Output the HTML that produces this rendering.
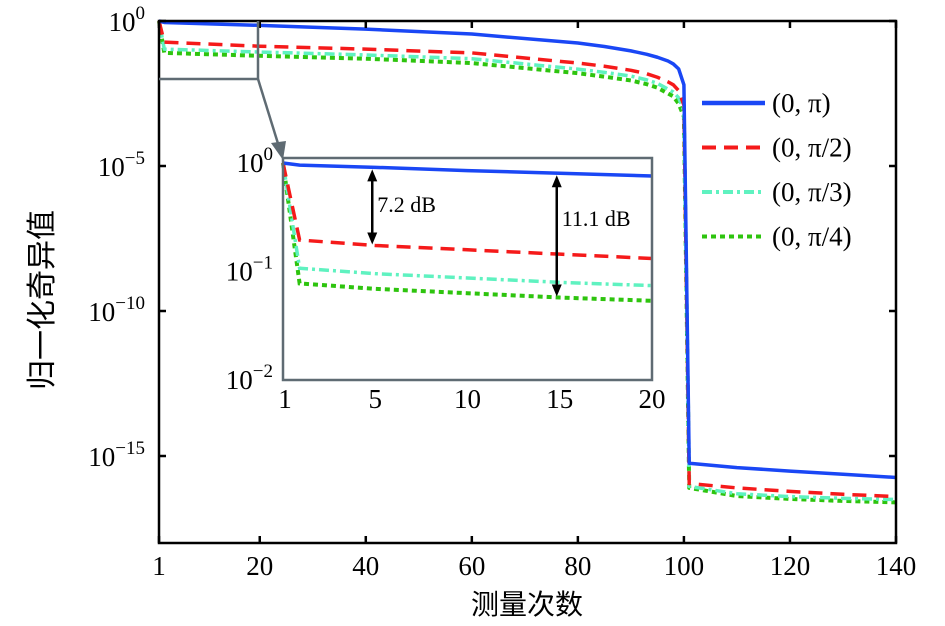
<!DOCTYPE html>
<html><head><meta charset="utf-8">
<style>
body{margin:0;background:#fff;}
svg{display:block;font-family:"Liberation Serif","Noto Serif CJK SC",serif;}
</style></head>
<body>
<svg id="chart" width="945" height="626" viewBox="0 0 945 626" xmlns="http://www.w3.org/2000/svg"></svg>
<script>
// ---- main chart data (log10 of normalized singular value) ----
const mainX = [1, 2, 20, 40, 60, 80, 85, 90, 93, 95, 97, 98, 99, 100, 101, 110, 120, 130, 140];
const blueMain  = [0, -0.05, -0.15, -0.28, -0.45, -0.76, -0.88, -1.03, -1.15, -1.25, -1.38, -1.48, -1.65, -2.2, -15.25, -15.4, -15.52, -15.63, -15.74];
const redMain   = [0, -0.73, -0.87, -0.97, -1.1, -1.45, -1.56, -1.7, -1.82, -1.94, -2.1, -2.2, -2.4, -2.9, -15.95, -16.1, -16.22, -16.32, -16.4];
const cyanMain  = [0, -0.97, -1.07, -1.17, -1.3, -1.66, -1.77, -1.9, -2.03, -2.15, -2.35, -2.45, -2.65, -3.1, -16.05, -16.3, -16.4, -16.46, -16.5];
const greenMain = [0, -1.1, -1.2, -1.3, -1.45, -1.8, -1.92, -2.05, -2.18, -2.3, -2.5, -2.6, -2.85, -3.3, -16.1, -16.38, -16.48, -16.55, -16.6];
const mainXTicks = [1, 20, 40, 60, 80, 100, 120, 140];
const mainYTicks = [0, -5, -10, -15];
const mainYLabels = ["0", "−5", "−10", "−15"];

// ---- inset data (index 0 = measurement 1) ----
const insetX = [0, 0.9, 5, 10, 15, 20];
const blueInset  = [0, -0.02, -0.04, -0.07, -0.095, -0.12];
const redInset   = [0, -0.71, -0.76, -0.8, -0.84, -0.88];
const cyanInset  = [0, -0.97, -1.02, -1.06, -1.1, -1.13];
const greenInset = [0, -1.11, -1.16, -1.2, -1.24, -1.27];
const insetXTicks = [0, 5, 10, 15, 20];
const insetXLabels = ["1", "5", "10", "15", "20"];
const insetYTicks = [0, -1, -2];
const insetYLabels = ["0", "−1", "−2"];
const annotX = [5, 15];
const annotLabels = ["7.2 dB", "11.1 dB"];

const legendLabels = ["(0, π)", "(0, π/2)", "(0, π/3)", "(0, π/4)"];
const colors = ["#1a47f5", "#f51a1a", "#5ff2c0", "#2ec40e"];
const dashes = ["", "14,8", "10,4,3,4", "5,4"];

const NS = "http://www.w3.org/2000/svg";
const svg = document.getElementById("chart");
function mk(tag, attrs, parent) {
  const e = document.createElementNS(NS, tag);
  for (const k in attrs) e.setAttribute(k, attrs[k]);
  (parent || svg).appendChild(e);
  return e;
}

const L = 159, R = 896, T = 21, B = 543;
const xMin = 1, xMax = 140, yMax = 0, yMin = -18;
const mx = v => L + (v - xMin) / (xMax - xMin) * (R - L);
const my = v => T + (yMax - v) / (yMax - yMin) * (B - T);

const iL = 283, iR = 652, iT = 158, iB = 380;
const ix = v => iL + v / 20 * (iR - iL);
const iy = v => iT + (0.046 - v) / 2.046 * (iB - iT);

const mainSeries = [blueMain, redMain, cyanMain, greenMain];
const gMain = mk("g", {});


[3, 2, 1, 0].forEach(i => {
  const p = mk("polyline", {points: mainX.map((x, j) => mx(x) + "," + my(mainSeries[i][j])).join(" "),
    fill: "none", stroke: colors[i], "stroke-width": i === 3 ? 4 : 3.5, "stroke-dasharray": dashes[i], "stroke-linejoin": "round"}, gMain);
  
  
});

const frame = mk("rect", {x: L, y: T, width: R - L, height: B - T, fill: "none", stroke: "#000", "stroke-width": 2.5});



mainXTicks.forEach(t => {
  const tk = mk("line", {x1: mx(t), x2: mx(t), y1: B, y2: B - 7, stroke: "#000", "stroke-width": 2.5});
  
  
  const tk2 = mk("line", {x1: mx(t), x2: mx(t), y1: T, y2: T + 7, stroke: "#000", "stroke-width": 2.5});
  
  
  const lb = mk("text", {x: mx(t), y: 575, "text-anchor": "middle", "font-size": 27});
  lb.textContent = t;
  
  
});
mainYTicks.forEach((t, k) => {
  const tk = mk("line", {x1: L, x2: L + 7, y1: my(t), y2: my(t), stroke: "#000", "stroke-width": 2.5});
  
  
  const tk2 = mk("line", {x1: R, x2: R - 7, y1: my(t), y2: my(t), stroke: "#000", "stroke-width": 2.5});
  
  
  const lb = mk("text", {x: 145, y: my(t) + 10, "text-anchor": "end", "font-size": 27});
  
  
  lb.appendChild(document.createTextNode("10"));
  const sp = mk("tspan", {dy: -12, "font-size": 19}, lb);
  sp.textContent = mainYLabels[k];
});

const xt = mk("text", {x: 527, y: 614, "text-anchor": "middle", "font-size": 28, "font-family": "'Noto Sans CJK SC',sans-serif"});
xt.textContent = "测量次数";


const yt = mk("text", {x: 0, y: 0, "text-anchor": "middle", "font-size": 30, "font-family": "'Noto Sans CJK SC',sans-serif", transform: "translate(52,300) rotate(-90)"});
yt.textContent = "归一化奇异值";



const zr = mk("polyline", {points: `${L},79 258,79 258,${T}`, fill: "none", stroke: "#5f6b73", "stroke-width": 2.5});


const za = mk("line", {x1: 258, y1: 79, x2: 280, y2: 150, stroke: "#5f6b73", "stroke-width": 2.5});


const zh = mk("polygon", {points: "283,160 271,143 286,141", fill: "#5f6b73"});



const ibg = mk("rect", {x: iL, y: iT, width: iR - iL, height: iB - iT, fill: "#fff", stroke: "none"});


const insetSeries = [blueInset, redInset, cyanInset, greenInset];
[3, 2, 1, 0].forEach(i => {
  const p = mk("polyline", {points: insetX.map((x, j) => ix(x) + "," + iy(insetSeries[i][j])).join(" "),
    fill: "none", stroke: colors[i], "stroke-width": i === 3 ? 4 : 3.5, "stroke-dasharray": dashes[i]});
  
  
});
const ifr = mk("rect", {x: iL, y: iT, width: iR - iL, height: iB - iT, fill: "none", stroke: "#5f6b73", "stroke-width": 2.5});


insetXTicks.forEach((t, k) => {
  const lb = mk("text", {x: ix(t) + (k === 0 ? 2 : 0), y: 408, "text-anchor": "middle", "font-size": 27});
  lb.textContent = insetXLabels[k];
  
  
});
insetYTicks.forEach((t, k) => {
  const lb = mk("text", {x: 273, y: iy(t) + 9, "text-anchor": "end", "font-size": 27});
  
  
  lb.appendChild(document.createTextNode("10"));
  const sp = mk("tspan", {dy: -12, "font-size": 19}, lb);
  sp.textContent = insetYLabels[k];
});
const lowerSeries = [redInset, greenInset];
annotX.forEach((ax, k) => {
  const j = insetX.indexOf(ax);
  const x = ix(ax) - 3;
  const y1 = iy(blueInset[j]) + 2, y2 = iy(lowerSeries[k][j]) - 1;
  const g = mk("g", {});
  
  
  mk("line", {x1: x, x2: x, y1: y1 + 8, y2: y2 - 8, stroke: "#000", "stroke-width": 2.5}, g);
  mk("polygon", {points: `${x},${y1} ${x - 5},${y1 + 12} ${x + 5},${y1 + 12}`, fill: "#000"}, g);
  mk("polygon", {points: `${x},${y2} ${x - 5},${y2 - 12} ${x + 5},${y2 - 12}`, fill: "#000"}, g);
  const t = mk("text", {x: x + 5, y: k === 0 ? 212 : 226, "font-size": 22}, g);
  t.textContent = annotLabels[k];
});

legendLabels.forEach((lab, i) => {
  const y = 103 + i * 44.5;
  const g = mk("g", {});
  
  
  mk("line", {x1: 702, x2: 765, y1: y, y2: y, stroke: colors[i], "stroke-width": i === 0 ? 4.5 : 4, "stroke-dasharray": dashes[i]}, g);
  const t = mk("text", {x: 772, y: y + 9, "font-size": 27}, g);
  t.textContent = lab;
});
</script>
</body></html>
